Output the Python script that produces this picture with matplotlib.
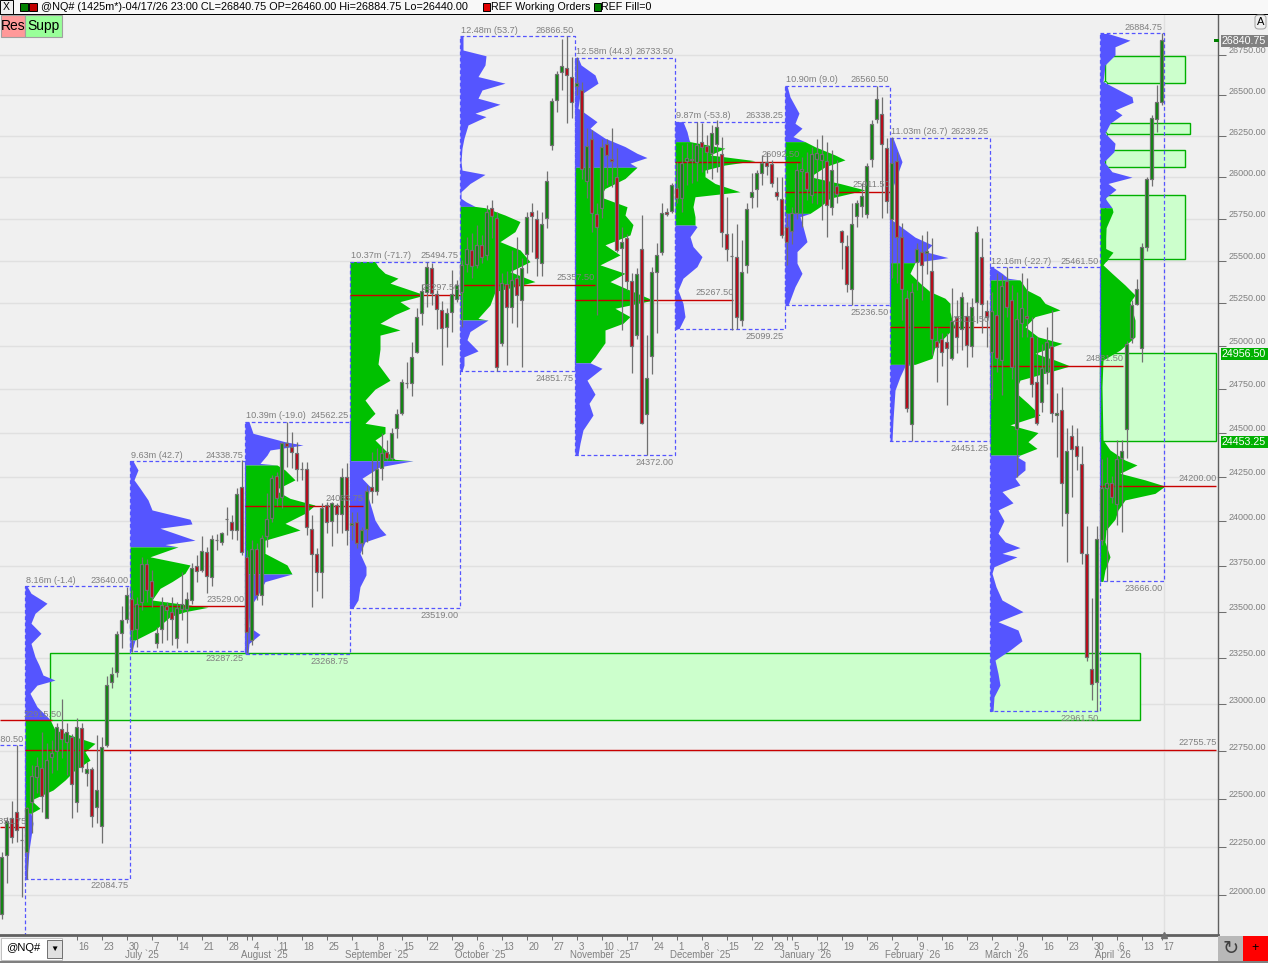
import numpy as np
import matplotlib
matplotlib.use('Agg')
import matplotlib.pyplot as plt
import matplotlib.ticker as ticker
from matplotlib.patches import Rectangle, FancyBboxPatch
from matplotlib.transforms import ScaledTranslation

plt.rcParams['font.family'] = ['Liberation Sans', 'DejaVu Sans']

# daily candles (10 per row)
candle_open = [
    21903, 22204, 22397, 22431, 22286, 22223, 22480, 22611, 22662, 22397,
    22720, 22750, 22865, 22798, 22824, 22480, 22874, 22632, 22658, 22454,
    22357, 22782, 23119, 23170, 23382, 23458, 23568, 23404, 23551, 23760,
    23668, 23331, 23404, 23533, 23500, 23355, 23513, 23513, 23564, 23752,
    23729, 23830, 23689, 23894, 23885, 24012, 23995, 23949, 24194, 23799,
    23345, 23843, 23592, 23916, 24017, 24256, 24133, 24439, 24420, 24382,
    24292, 24292, 23955, 23815, 23720, 24090, 24003, 24090, 24038, 24250,
    23980, 23993, 23876, 23956, 24190, 24171, 24297, 24388, 24354, 24524,
    24610, 24787, 24787, 24965, 25189, 25317, 25459, 25301, 25209, 25111,
    25195, 25276, 25317, 25479, 25564, 25475, 25594, 25534, 25816, 25753,
    25016, 25363, 25225, 25400, 25267, 25538, 25792, 25748, 25485, 25753,
    26196, 26472, 26643, 26668, 26616, 26556, 26533, 25978, 26233, 25778,
    25812, 26202, 26111, 26003, 25574, 25634, 25382, 25062, 25570, 24604,
    24942, 25431, 25554, 25788, 25798, 25932, 25873, 26099, 26112, 26091,
    26212, 26190, 26147, 26200, 26139, 25659, 25530, 25524, 25150, 25475,
    25882, 25926, 26023, 26094, 26078, 25912, 25866, 25702, 25677, 25782,
    26037, 26033, 25893, 26109, 26105, 26100, 25822, 25947, 25677, 25590,
    25331, 25768, 25828, 25778, 26109, 26355, 26386, 26180, 25748, 26100,
    25640, 25278, 24549, 25491, 25554, 25545, 25441, 25029, 25039, 25024,
    24927, 25170, 25098, 25176, 25000, 25258, 25524, 25205, 24962, 25179,
    24917, 25382, 25267, 24520, 25130, 25175, 25052, 24790, 24676, 24849,
    25000, 24600, 24629, 24048, 24480, 24424, 24322, 23820, 23187, 23121,
    23894, 24185, 24216, 24096, 24354, 24519, 25043, 25244, 24985, 25580,
    25992, 26353, 26460,
]
candle_high = [
    22223, 22405, 22488, 22782, 22353, 22457, 22676, 22720, 22853, 22791,
    22808, 22897, 23025, 22897, 22842, 22924, 22897, 22693, 22667, 22834,
    22824, 23150, 23200, 23396, 23531, 23637, 23619, 23582, 23802, 23790,
    23729, 23418, 23582, 23555, 23582, 23555, 23720, 23610, 23766, 23811,
    23915, 23857, 23924, 23929, 23940, 24078, 24035, 24185, 24344, 23839,
    23894, 23876, 23925, 24156, 24260, 24278, 24448, 24562, 24505, 24448,
    24335, 24335, 24035, 23849, 24100, 24109, 24109, 24100, 24297, 24325,
    24053, 24053, 23970, 24203, 24391, 24410, 24496, 24458, 24524, 24635,
    24810, 24907, 25024, 25221, 25363, 25494, 25485, 25326, 25262, 25221,
    25446, 25383, 25505, 25643, 25663, 25715, 25653, 25832, 25862, 25792,
    25425, 25440, 25564, 25643, 25515, 25792, 25842, 25804, 25792, 26037,
    26482, 26650, 26848, 26866, 26739, 26739, 26585, 26298, 26288, 25842,
    26233, 26233, 26298, 26176, 25703, 25660, 25425, 25455, 25772, 25062,
    25465, 25604, 25842, 25812, 25962, 26095, 26196, 26210, 26206, 26338,
    26328, 26257, 26318, 26349, 26247, 25882, 25663, 25720, 25624, 25842,
    26023, 26043, 26135, 26155, 26105, 26003, 26003, 25782, 25822, 26085,
    26125, 26155, 26185, 26233, 26257, 26216, 26165, 26105, 25683, 25653,
    25842, 25862, 25962, 26085, 26349, 26560, 26491, 26237, 26247, 26155,
    25723, 25326, 25367, 25604, 25653, 25674, 25634, 25111, 25072, 25072,
    25337, 25267, 25317, 25258, 25278, 25709, 25634, 25267, 25317, 25425,
    25416, 25465, 25358, 25317, 25425, 25396, 25170, 25052, 25012, 25111,
    25209, 24726, 24762, 24525, 24544, 24525, 24424, 23972, 23577, 23972,
    24348, 24363, 24252, 24457, 24457, 25030, 25267, 25390, 25604, 26000,
    26380, 26565, 26884.75,
]
candle_low = [
    21878, 22064, 22267, 22275, 21991, 22081, 22319, 22527, 22428, 22397,
    22632, 22650, 22711, 22623, 22397, 22431, 22641, 22566, 22353, 22372,
    22270, 22773, 23087, 23144, 23300, 23437, 23282, 23309, 23509, 23555,
    23527, 23300, 23327, 23345, 23318, 23300, 23455, 23331, 23542, 23664,
    23720, 23604, 23641, 23839, 23870, 23925, 23901, 23894, 23810, 23273,
    23318, 23564, 23536, 23857, 23998, 24085, 24072, 24306, 24297, 24223,
    24232, 23925, 23527, 23615, 23573, 23933, 23863, 23933, 23933, 23867,
    23894, 23849, 23817, 23885, 24100, 24147, 24232, 24344, 24344, 24467,
    24600, 24757, 24709, 24960, 25122, 25225, 25238, 25097, 24890, 24990,
    25083, 25258, 25111, 25435, 25396, 25455, 25485, 25505, 25634, 24852,
    25000, 24890, 25134, 25111, 24878, 25425, 25554, 25408, 25408, 25695,
    26165, 26400, 26530, 26330, 26360, 26502, 25992, 25873, 25673, 25182,
    25753, 25953, 25943, 25554, 25092, 25326, 24843, 25040, 24549, 24372,
    24837, 25072, 25534, 25764, 25782, 25842, 25792, 25953, 25962, 25980,
    26033, 26023, 25992, 26033, 25584, 25500, 25092, 25099, 25114, 25425,
    25812, 25822, 25953, 26012, 25943, 25862, 25634, 25475, 25600, 25748,
    25703, 25862, 25842, 25838, 25743, 25643, 25772, 25842, 25450, 25312,
    25236, 25702, 25762, 25753, 26063, 26328, 25753, 25782, 25396, 25367,
    25150, 24619, 24451, 25326, 25267, 25423, 24946, 24790, 24883, 24657,
    24917, 24956, 24975, 24878, 24936, 25131, 25072, 24992, 24695, 24849,
    24715, 25170, 24810, 24250, 25052, 25052, 24705, 24544, 24619, 24781,
    24562, 24363, 23972, 23775, 24137, 24288, 23762, 23233, 23022, 22961,
    23867, 23666, 24100, 23978, 23940, 24355, 25018, 25238, 24907, 25560,
    25946, 26277, 26440,
]
candle_close = [
    22197, 22384, 22298, 22336, 22286, 22449, 22620, 22671, 22513, 22702,
    22738, 22879, 22812, 22853, 22576, 22879, 22664, 22653, 22410, 22545,
    22773, 23105, 23164, 23376, 23455, 23592, 23400, 23542, 23760, 23619,
    23582, 23385, 23536, 23509, 23460, 23519, 23542, 23568, 23738, 23724,
    23835, 23696, 23900, 23894, 23935, 24012, 23951, 24151, 23830, 23389,
    23843, 23592, 23907, 24012, 24241, 24128, 24439, 24425, 24388, 24294,
    24292, 23969, 23817, 23716, 24072, 23998, 24100, 24038, 24250, 23952,
    23990, 23876, 23949, 24171, 24171, 24292, 24382, 24354, 24496, 24604,
    24790, 24787, 24936, 25166, 25321, 25465, 25307, 25213, 25102, 25189,
    25301, 25354, 25475, 25570, 25471, 25594, 25524, 25792, 25766, 24875,
    25367, 25228, 25386, 25297, 25455, 25762, 25766, 25515, 25718, 25976,
    26466, 26632, 26684, 26626, 26457, 26575, 26049, 26192, 25783, 25702,
    26182, 26135, 26099, 25564, 25613, 25382, 25000, 25421, 24555, 24816,
    25431, 25534, 25782, 25778, 25951, 25873, 26089, 26115, 26102, 26196,
    26182, 26151, 26268, 26304, 25673, 25568, 25530, 25166, 25431, 25806,
    25910, 26023, 26089, 26070, 25962, 25888, 25650, 25611, 25786, 26043,
    26050, 25926, 26141, 26145, 26140, 25832, 26043, 25899, 25613, 25364,
    25718, 25842, 25888, 26070, 26322, 26476, 26202, 25856, 26085, 25643,
    25332, 24638, 25317, 25570, 25475, 25555, 25039, 24991, 24965, 24989,
    25146, 25049, 25287, 25006, 25225, 25671, 25244, 25166, 25205, 24927,
    25348, 25225, 24878, 25157, 25219, 25160, 24781, 24553, 24869, 25024,
    24610, 24614, 24216, 24396, 24404, 24368, 23825, 23255, 23107, 23903,
    24185, 24216, 24137, 24348, 24396, 25012, 25238, 25331, 25584, 25990,
    26359, 26461, 26840.75,
]

# volume profiles: price rows and volume at each row
p1_price = [23640, 23601, 23546, 23491, 23437, 23382, 23327, 23255, 23210, 23156, 23129, 23102, 23058, 22986, 22918, 22862, 22791, 22746, 22702, 22650, 22597, 22545, 22492, 22449, 22423, 22371, 22301, 22232, 22085]
p1_vol = [2, 6, 22, 10, 6, 16, 6, 10, 14, 18, 30, 12, 5, 12, 25, 30, 70, 60, 65, 50, 40, 28, 6, 15, 6, 8, 6, 4, 2]
p2_price = [24339, 24288, 24232, 24185, 24119, 24063, 24011, 23985, 23961, 23894, 23870, 23857, 23802, 23757, 23711, 23665, 23628, 23564, 23536, 23524, 23500, 23473, 23400, 23345, 23287]
p2_vol = [3, 8, 4, 10, 18, 22, 60, 62, 30, 65, 35, 48, 20, 60, 55, 42, 30, 22, 60, 78, 55, 40, 25, 5, 2]
p3_price = [24562, 24496, 24448, 24429, 24401, 24372, 24325, 24316, 24288, 24232, 24175, 24128, 24090, 24044, 23988, 23951, 23894, 23821, 23757, 23707, 23665, 23582, 23527, 23418, 23376, 23327, 23269]
p3_vol = [4, 8, 40, 58, 25, 22, 15, 32, 40, 50, 30, 45, 70, 60, 40, 55, 20, 20, 42, 47, 20, 12, 5, 4, 15, 4, 3]
p4_price = [25495, 25465, 25425, 25396, 25367, 25337, 25297, 25258, 25219, 25182, 25131, 25092, 25062, 24981, 24894, 24800, 24749, 24686, 24610, 24553, 24534, 24496, 24458, 24401, 24348, 24340, 24306, 24241, 24194, 24137, 24063, 24006, 23961, 23925, 23885, 23821, 23747, 23702, 23637, 23564, 23519]
p4_vol = [25, 28, 35, 48, 40, 55, 75, 50, 60, 45, 30, 50, 30, 30, 28, 40, 25, 15, 25, 15, 35, 35, 25, 35, 45, 63, 30, 12, 20, 18, 22, 25, 30, 36, 15, 10, 16, 16, 10, 8, 3]
p5_price = [26866, 26781, 26745, 26688, 26616, 26575, 26533, 26482, 26445, 26390, 26369, 26318, 26237, 26176, 26094, 26043, 26017, 25962, 25912, 25873, 25852, 25824, 25816, 25772, 25733, 25673, 25613, 25564, 25494, 25435, 25376, 25317, 25238, 25160, 25150, 25083, 25035, 24970, 24936, 24888, 24852]
p5_vol = [3, 3, 26, 25, 18, 45, 22, 18, 40, 15, 26, 8, 4, 2, 1, 2, 25, 10, 1, 1, 6, 15, 25, 45, 60, 55, 40, 60, 70, 50, 75, 35, 30, 18, 28, 10, 7, 18, 4, 4, 2]
p6_price = [26733, 26688, 26626, 26575, 26502, 26421, 26338, 26298, 26237, 26186, 26145, 26119, 26085, 26060, 25992, 25932, 25882, 25822, 25772, 25715, 25653, 25594, 25534, 25475, 25425, 25376, 25267, 25219, 25170, 25131, 25092, 25018, 24936, 24901, 24869, 24801, 24720, 24667, 24600, 24515, 24439, 24372]
p6_vol = [3, 6, 20, 23, 5, 3, 22, 15, 30, 50, 62, 72, 55, 62, 50, 30, 25, 52, 50, 58, 55, 30, 45, 25, 50, 35, 78, 40, 55, 48, 30, 30, 20, 15, 27, 12, 20, 14, 18, 8, 5, 3]
p7_price = [26338, 26277, 26227, 26216, 26176, 26135, 26100, 26074, 26043, 26003, 25962, 25912, 25882, 25822, 25762, 25712, 25702, 25643, 25584, 25524, 25465, 25396, 25326, 25248, 25170, 25099]
p7_vol = [8, 12, 14, 15, 50, 35, 80, 50, 30, 30, 40, 65, 20, 18, 20, 20, 22, 15, 18, 27, 22, 8, 3, 8, 10, 4]
p8_price = [26560, 26491, 26390, 26328, 26298, 26247, 26216, 26185, 26135, 26105, 26063, 26003, 25962, 25923, 25873, 25822, 25782, 25762, 25702, 25613, 25554, 25485, 25425, 25346, 25236]
p8_vol = [2, 5, 14, 10, 17, 8, 20, 30, 50, 60, 40, 25, 55, 80, 45, 35, 25, 15, 18, 22, 12, 12, 17, 10, 3]
p9_price = [26239, 26094, 25943, 25742, 25640, 25594, 25554, 25518, 25494, 25488, 25425, 25367, 25317, 25278, 25248, 25199, 25150, 25111, 25052, 24994, 24927, 24892, 24883, 24821, 24743, 24572, 24451]
p9_vol = [3, 12, 3, 2, 25, 42, 35, 58, 30, 25, 20, 30, 40, 55, 60, 60, 62, 65, 55, 45, 42, 25, 15, 10, 5, 3, 2]
p10_price = [25461, 25425, 25396, 25386, 25326, 25287, 25248, 25209, 25170, 25111, 25052, 25014, 24956, 24917, 24883, 24849, 24801, 24733, 24667, 24600, 24544, 24500, 24448, 24410, 24372, 24359, 24335, 24288, 24241, 24203, 24166, 24103, 24063, 24003, 23933, 23885, 23853, 23821, 23802, 23747, 23711, 23637, 23564, 23500, 23445, 23400, 23341, 23291, 23237, 23165, 23102, 23039, 22961]
p10_vol = [3, 12, 18, 30, 37, 50, 55, 70, 45, 35, 48, 72, 45, 65, 80, 60, 30, 25, 38, 50, 20, 48, 38, 47, 30, 28, 35, 35, 25, 30, 12, 23, 8, 14, 8, 15, 30, 12, 27, 4, 2, 6, 12, 33, 8, 28, 32, 20, 5, 8, 10, 4, 3]
p11_price = [26884, 26842, 26801, 26750, 26688, 26585, 26491, 26457, 26410, 26380, 26328, 26268, 26206, 26155, 26094, 26033, 26000, 25962, 25926, 25873, 25816, 25792, 25695, 25574, 25550, 25475, 25425, 25356, 25297, 25254, 25150, 25052, 24975, 24917, 24762, 24458, 24401, 24344, 24316, 24269, 24232, 24197, 24156, 24119, 24063, 24011, 23951, 23885, 23802, 23729, 23666]
p11_vol = [8, 30, 15, 15, 5, 3, 32, 33, 15, 22, 10, 5, 15, 14, 4, 12, 32, 8, 16, 5, 12, 13, 6, 5, 13, 3, 12, 25, 35, 30, 35, 35, 20, 3, 2, 3, 10, 25, 37, 20, 45, 65, 55, 25, 18, 15, 6, 5, 10, 5, 3]

profile_prices = [p1_price, p2_price, p3_price, p4_price, p5_price, p6_price, p7_price, p8_price, p9_price, p10_price, p11_price]
profile_vols = [p1_vol, p2_vol, p3_vol, p4_vol, p5_vol, p6_vol, p7_vol, p8_vol, p9_vol, p10_vol, p11_vol]
profile_start = [5, 26, 49, 70, 92, 115, 135, 157, 178, 198, 220]
profile_end = [26, 49, 70, 92, 115, 135, 157, 178, 198, 220, 232.8]
value_high = [22918, 23857, 24316, 25495, 25824, 26060, 26216, 26216, 25488, 25386, 25816]
value_low = [22423, 23345, 23707, 24340, 25150, 24901, 25712, 25782, 24892, 24372, 23666]
high_text = ['23640.00', '24338.75', '24562.25', '25494.75', '26866.50', '26733.50', '26338.25', '26560.50', '26239.25', '25461.50', '26884.75']
low_text = ['22084.75', '23287.25', '23268.75', '23519.00', '24851.75', '24372.00', '25099.25', '25236.50', '24451.25', '22961.50', '23666.00']
profile_high = [23640, 24338.75, 24562.25, 25494.75, 26866.5, 26733.5, 26338.25, 26560.5, 26239.25, 25461.5, 26884.75]
profile_low = [22084.75, 23287.25, 23268.75, 23519, 24851.75, 24372, 25099.25, 25236.5, 24451.25, 22961.5, 23666]
vol_text = ['8.16m (-1.4)', '9.63m (42.7)', '10.39m (-19.0)', '10.37m (-71.7)', '12.48m (53.7)', '12.58m (44.3)', '9.87m (-53.8)', '10.90m (9.0)', '11.03m (26.7)', '12.16m (-22.7)', '']

# point of control lines
poc_price = [22755.75, 23529.0, 24083.75, 25297.5, 25357.5, 25267.5, 26092.5, 25911.5, 25111.5, 24881.5, 24200.0]
poc_start = [5, 26, 49, 70, 92, 115, 135, 157, 178, 198, 220]
poc_end = [243.3, 49, 72.7, 92, 119, 146.7, 160, 178, 198, 224.7, 243.3]
poc_text = ['22755.75', '23529.00', '24083.75', '25297.50', '25357.50', '25267.50', '26092.50', '25911.50', '25111.50', '24881.50', '24200.00']

# support / resistance zones
zone_left = [10, 220, 221, 221, 221, 221]
zone_right = [228, 243.3, 237, 238, 237, 237]
zone_top = [23273, 24956.5, 26745, 26328, 26165, 25891]
zone_bottom = [22915, 24453.25, 26575, 26261, 26063, 25508]

y_ticks = [22000, 22250, 22500, 22750, 23000, 23250, 23500, 23750, 24000, 24250, 24500, 24750, 25000, 25250, 25500, 25750, 26000, 26250, 26500, 26750]

date_ticks = [15, 20, 25, 30, 35, 40, 45, 50, 55, 60, 65, 70, 75, 80, 85, 90, 95, 100, 105, 110, 115, 120, 125, 130, 135, 140, 145, 150, 154, 158, 163, 168, 173, 178, 183, 188, 193, 198, 203, 208, 213, 218, 223, 228, 232]
date_labels = ['16', '23', '30', '7', '14', '21', '28', '4', '11', '18', '25', '1', '8', '15', '22', '29', '6', '13', '20', '27', '3', '10', '17', '24', '1', '8', '15', '22', '29', '5', '12', '19', '26', '2', '9', '16', '23', '2', '9', '16', '23', '30', '6', '13', '17']
month_labels = ['July `25', 'August `25', 'September `25', 'October `25', 'November `25', 'December `25', 'January `26', 'February `26', 'March `26', 'April `26']
month_left = [125, 241, 345, 455, 570, 670, 780, 885, 985, 1095]

W, H = 1268, 963
BG = '#f0f0f0'
GREY = '#7f7f7f'
BLUE = '#5555ff'
GREEN = '#00c000'
RED = '#c80000'
ZONE = '#00b000'
FS = 6.6

fig = plt.figure(figsize=(W / 100, H / 100), dpi=100, facecolor=BG)
ax = fig.add_axes([0, (H - 935) / H, 1218 / W, (935 - 15) / H], facecolor=BG)

ax.set_yscale('log')
ax.set_xlim(-0.33, 243.27)
ax.set_ylim(21797, 27000)

# y axis on the right, labels sit just above the tick
ax.yaxis.tick_right()
ax.yaxis.set_major_locator(ticker.FixedLocator(y_ticks))
ax.yaxis.set_major_formatter(ticker.FixedFormatter(['%.2f' % v for v in y_ticks]))
ax.yaxis.set_minor_locator(ticker.NullLocator())
ax.tick_params(axis='y', which='major', length=5.8, width=0.75, color='#707070', labelcolor=GREY, labelsize=6.5, pad=2)
up = ScaledTranslation(0, 4 / 100, fig.dpi_scale_trans)
for lab in ax.get_yticklabels():
    lab.set_verticalalignment('center')
    lab.set_transform(lab.get_transform() + up)
ax.grid(True, axis='y', color='#e0e0e0', lw=1)
ax.set_axisbelow(True)
ax.axvline(232.5, color='#e0e0e0', lw=1, zorder=0.5)

# date ticks
ax.set_xticks(date_ticks)
ax.set_xticklabels(date_labels)
ax.set_xticks([49, 157], minor=True)
ax.tick_params(axis='x', which='both', length=3.6, width=0.75, color='#707070', labelcolor=GREY, labelsize=7, pad=1.5)
offset = ScaledTranslation(2 / 100, 0, fig.dpi_scale_trans)
for lab in ax.get_xticklabels():
    lab.set_horizontalalignment('left')
    lab.set_transform(lab.get_transform() + offset)

for s in ['top', 'left']:
    ax.spines[s].set_visible(False)
ax.spines['right'].set_color('#606060')
ax.spines['right'].set_linewidth(1)
ax.spines['bottom'].set_color('#606060')
ax.spines['bottom'].set_linewidth(2)

# zones
for l, r, t, b in zip(zone_left, zone_right, zone_top, zone_bottom):
    ax.add_patch(Rectangle((l - 0.33, b), r - l, t - b, facecolor='#ccffcc', edgecolor=ZONE, lw=1, zorder=1))
    if l == 221:
        ax.plot([l - 0.33], [b], 'o', ms=2.8, mfc='#ccffcc', mec=ZONE, mew=0.7, zorder=1.5)

# volume profiles
for i in range(len(profile_prices)):
    price = np.array(profile_prices[i], dtype=float)
    vol = np.array(profile_vols[i], dtype=float)
    x0 = profile_start[i] - 0.33
    x1 = x0 + vol / 5
    upper = price >= value_high[i]
    mid = (price <= value_high[i]) & (price >= value_low[i])
    lower = price <= value_low[i]
    for mask, col in [(upper, BLUE), (mid, GREEN), (lower, BLUE)]:
        if mask.sum() > 1:
            ax.fill_betweenx(price[mask], x0, x1[mask], color=col, lw=0, zorder=2)
    # dashed box around the profile
    xe = profile_end[i] - 0.33
    hi, lo = profile_high[i], profile_low[i]
    ax.plot([x0, xe, xe, x0, x0], [hi, hi, lo, lo, hi], color=BLUE, lw=0.9, ls=(0, (3, 2)), zorder=2.5)
    ax.annotate(high_text[i], (xe, hi), xytext=(-1, 1), textcoords='offset points', ha='right', va='bottom', color=GREY, fontsize=FS, zorder=6)
    ax.annotate(low_text[i], (xe, lo), xytext=(-1, -2), textcoords='offset points', ha='right', va='top', color=GREY, fontsize=FS, zorder=6)
    if vol_text[i]:
        ax.annotate(vol_text[i], (x0, hi), xytext=(1, 1), textcoords='offset points', ha='left', va='bottom', color=GREY, fontsize=FS, zorder=6)

# left edge leftovers from the profile before
ax.plot([-0.33, 4.67, 4.67], [22780.5, 22780.5, 21797], color=BLUE, lw=0.9, ls=(0, (3, 2)), zorder=2.5)
ax.hlines(22915.5, -0.33, 10, color=RED, lw=1, zorder=3)
ax.hlines(22351.75, -0.33, 5, color=RED, lw=1, zorder=3)
ax.annotate('22780.50', (4.5, 22780.5), xytext=(0, 1), textcoords='offset points', ha='right', va='bottom', color=GREY, fontsize=FS, zorder=6)
ax.annotate('22915.50', (12, 22915.5), xytext=(0, 1), textcoords='offset points', ha='right', va='bottom', color=GREY, fontsize=FS, zorder=6)
ax.annotate('22351.75', (5, 22351.75), xytext=(0, 1), textcoords='offset points', ha='right', va='bottom', color=GREY, fontsize=FS, zorder=6)

# POC lines
for p, s, e, t in zip(poc_price, poc_start, poc_end, poc_text):
    ax.hlines(p, s - 0.33, e - 0.33, color=RED, lw=1, zorder=3)
    ax.annotate(t, (e - 0.33, p), xytext=(0, 2), textcoords='offset points', ha='right', va='bottom', color=GREY, fontsize=FS, zorder=6)

# candles
idx = np.arange(len(candle_open))
o = np.array(candle_open, dtype=float)
h = np.array(candle_high, dtype=float)
l_ = np.array(candle_low, dtype=float)
c = np.array(candle_close, dtype=float)
ax.vlines(idx, l_, h, color='#707070', lw=0.9, zorder=4)
colors = ['#088808' if cl >= op else '#c00010' for op, cl in zip(o, c)]
ax.bar(idx, np.abs(c - o), bottom=np.minimum(o, c), width=0.7, color=colors, edgecolor='#707070', lw=0.9, zorder=5)


# chrome, placed in pixels
def box(x0, y0, x1, y1, **kw):
    r = Rectangle((x0 / W, 1 - y1 / H), (x1 - x0) / W, (y1 - y0) / H, transform=fig.transFigure, **kw)
    fig.add_artist(r)
    return r


def label(x, y, s, **kw):
    kw.setdefault('va', 'center')
    kw.setdefault('color', 'black')
    kw.setdefault('fontsize', 8)
    fig.text(x / W, 1 - y / H, s, **kw)


# header strip
box(0, 0, W, 14, facecolor='#f8f8f8', edgecolor='none')
box(0, 14, W, 15, facecolor='black', edgecolor='none')
box(0, 0, 13, 14, facecolor='#f0f0f0', edgecolor='black', lw=0.7)
label(6.5, 7, 'X', ha='center', fontsize=7.5)
box(20, 3, 28, 11, facecolor='#008000', edgecolor='black', lw=0.7)
box(29, 3, 37, 11, facecolor='#c00000', edgecolor='black', lw=0.7)
label(41, 7, '@NQ# (1425m*)-04/17/26 23:00 CL=26840.75 OP=26460.00 Hi=26884.75 Lo=26440.00', fontsize=7.85)
box(483, 3, 490, 11, facecolor='#e00000', edgecolor='black', lw=0.7)
label(491, 7, 'REF Working Orders', fontsize=7.7)
box(594, 3, 601, 11, facecolor='#008000', edgecolor='black', lw=0.7)
label(601, 7, 'REF Fill=0', fontsize=7.7)

# Res / Supp buttons
box(1, 15, 25, 37, facecolor='#ff9999', edgecolor='#a0a0a0', lw=0.8)
box(25, 15, 62, 37, facecolor='#99ff99', edgecolor='#a0a0a0', lw=0.8)
label(13, 26, 'Res', ha='center', fontsize=10)
label(43.5, 26, 'Supp', ha='center', fontsize=10)

# right side tags
box(1221, 35, W, 47, facecolor='#808080', edgecolor='none')
label(1222, 41, '26840.75', color='white', fontsize=7.7)
box(1214, 39, 1219, 42, facecolor='#008000', edgecolor='none')
box(1221, 348, W, 360, facecolor='#00b000', edgecolor='none')
label(1222, 354, '24956.50', color='white', fontsize=7.7)
box(1221, 436, W, 448, facecolor='#00b000', edgecolor='none')
label(1222, 442, '24453.25', color='white', fontsize=7.7)
fig.add_artist(FancyBboxPatch((1255 / W, 1 - 29 / H), 11 / W, 14 / H, boxstyle='round,pad=0,rounding_size=0.003', transform=fig.transFigure, facecolor='#f0f0f0', edgecolor='#a0a0a0', lw=0.7))
label(1260.5, 22, 'A', ha='center', fontsize=8)

# month row
for t, x in zip(month_labels, month_left):
    label(x, 955, t, color=GREY, fontsize=6.9, ha='left')

# marker on the time axis at the last bar
ax.plot([232.5], [21797], marker='^', ms=4, color='#707070', clip_on=False, zorder=7)

# bottom widgets
box(0, 961, W, 963, facecolor='#808080', edgecolor='none')
box(1, 938, 62, 960, facecolor='white', edgecolor='#c0c0c0', lw=0.7)
label(6, 948, '@NQ#', fontsize=8)
box(47, 940, 62, 958, facecolor='#e0e0e0', edgecolor='#707070', lw=0.7)
label(54.5, 949, '\u25bc', ha='center', fontsize=6)
box(1218, 936, 1243, 961, facecolor='#b8b8b8', edgecolor='none')
label(1230.5, 948, '\u21bb', ha='center', fontsize=14, color='#404040', family='DejaVu Sans')
box(1243, 936, W, 961, facecolor='#ff0000', edgecolor='none')
label(1255.5, 948, '+', ha='center', fontsize=9)

fig.savefig('out.png', dpi=100, facecolor=BG)
